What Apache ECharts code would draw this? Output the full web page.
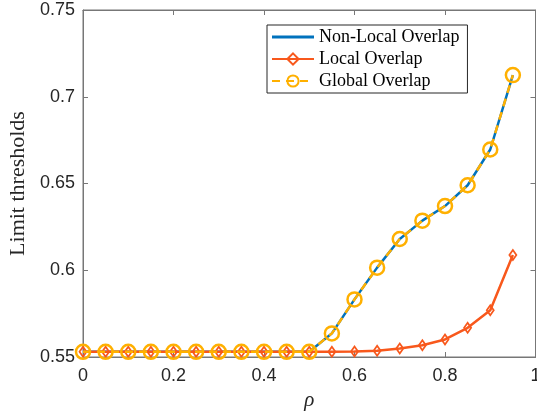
<!DOCTYPE html>
<html>
<head>
<meta charset="utf-8">
<script src="https://cdn.jsdelivr.net/npm/echarts@6/dist/echarts.min.js"></script>
<style>
html,body{margin:0;padding:0;background:#fff;}
#main{width:537px;height:417px;}
</style>
</head>
<body>
<div id="main"></div>
<script>
const rho = [0,0.05,0.1,0.15,0.2,0.25,0.3,0.35,0.4,0.45,0.5,0.55,0.6,0.65,0.7,0.75,0.8,0.85,0.9,0.95];
const nonLocal = [0.553,0.553,0.553,0.553,0.553,0.553,0.553,0.553,0.553,0.553,0.553,0.5636,0.5832,0.6015,0.618,0.6286,0.637,0.649,0.6696,0.7125];
const local = [0.553,0.553,0.553,0.553,0.553,0.553,0.553,0.553,0.553,0.553,0.553,0.553,0.5532,0.5536,0.5549,0.5568,0.5601,0.5668,0.577,0.6088];
const global = [0.553,0.553,0.553,0.553,0.553,0.553,0.553,0.553,0.553,0.553,0.553,0.5636,0.5832,0.6015,0.618,0.6286,0.637,0.649,0.6696,0.7125];
const seriesNames = ['Non-Local Overlap','Local Overlap','Global Overlap'];
const yLabel = 'Limit thresholds';
const xLabel = 'ρ';

const pair = arr => rho.map((x,i)=>[x,arr[i]]);
const axisCol = '#777777';
const textCol = '#262626';
const serif = '"Liberation Serif", "Times New Roman", serif';
const sans = '"Liberation Sans", Arial, sans-serif';
const lineIcon = 'path://M0,0M0,5.6L42,5.6L42,8.4L0,8.4ZM42,14';

const chart = echarts.init(document.getElementById('main'), null, {renderer:'canvas'});
chart.setOption({
  animation:false,
  backgroundColor:'#fff',
  grid:{left:83,right:1.5,top:10,bottom:60,containLabel:false,outerBoundsMode:'none',
    show:true,borderColor:axisCol,borderWidth:1,backgroundColor:'transparent'},
  legend:{
    orient:'vertical', left:267, top:25,
    data:[
      {name:seriesNames[0], icon:lineIcon, itemStyle:{color:'#0072BD',borderWidth:0}},
      {name:seriesNames[1]},
      {name:seriesNames[2]}
    ],
    backgroundColor:'#fff', borderColor:'#262626', borderWidth:1, borderRadius:0,
    padding:[3,8,3,4], itemGap:4, itemWidth:42, itemHeight:14,
    textStyle:{fontFamily:serif,fontSize:18,color:'#000',lineHeight:18}
  },
  xAxis:[{
    type:'value', min:0, max:1, interval:0.2,
    name:xLabel, nameLocation:'middle', nameGap:30,
    nameTextStyle:{fontFamily:serif,fontStyle:'italic',fontSize:21,color:textCol},
    axisLine:{show:true,onZero:false,lineStyle:{color:axisCol,width:1}},
    axisTick:{show:true,inside:true,length:5,lineStyle:{color:axisCol}},
    axisLabel:{margin:10,fontFamily:sans,fontSize:18,color:textCol},
    splitLine:{show:false}
  },{
    type:'value', min:0, max:1, interval:0.2, position:'top',
    axisLine:{show:true,onZero:false,lineStyle:{color:axisCol,width:1}},
    axisTick:{show:true,inside:true,length:5,lineStyle:{color:axisCol}},
    axisLabel:{show:false}, splitLine:{show:false}
  }],
  yAxis:[{
    type:'value', min:0.55, max:0.75, interval:0.05,
    name:yLabel, nameLocation:'middle', nameGap:50,
    nameTextStyle:{fontFamily:serif,fontSize:22,color:textCol},
    axisLine:{show:true,onZero:false,lineStyle:{color:axisCol,width:1}},
    axisTick:{show:true,inside:true,length:5,lineStyle:{color:axisCol}},
    axisLabel:{margin:8,fontFamily:sans,fontSize:18,color:textCol,
      formatter:v=>String(+v.toFixed(2))},
    splitLine:{show:false}
  },{
    type:'value', min:0.55, max:0.75, interval:0.05, position:'right',
    axisLine:{show:true,onZero:false,lineStyle:{color:axisCol,width:1}},
    axisTick:{show:true,inside:true,length:5,lineStyle:{color:axisCol}},
    axisLabel:{show:false}, splitLine:{show:false}
  }],
  series:[{
    name:seriesNames[0], type:'line', data:pair(nonLocal), symbol:'none',
    lineStyle:{color:'#0072BD',width:2.5}, itemStyle:{color:'#0072BD'}, z:2
  },{
    name:seriesNames[1], type:'line', data:pair(local),
    symbol:'diamond', symbolSize:[7,10], showAllSymbol:true,
    lineStyle:{color:'#F8581C',width:2.5},
    itemStyle:{color:'rgba(255,255,255,0)',borderColor:'#F8581C',borderWidth:1.8}, z:3
  },{
    name:seriesNames[2], type:'line', data:pair(global),
    symbol:'circle', symbolSize:14, showAllSymbol:true,
    lineStyle:{color:'#FFB000',width:2.5,type:[8,6]},
    itemStyle:{color:'rgba(255,255,255,0)',borderColor:'#FFB000',borderWidth:2.5}, z:4
  }]
});
</script>
</body>
</html>
